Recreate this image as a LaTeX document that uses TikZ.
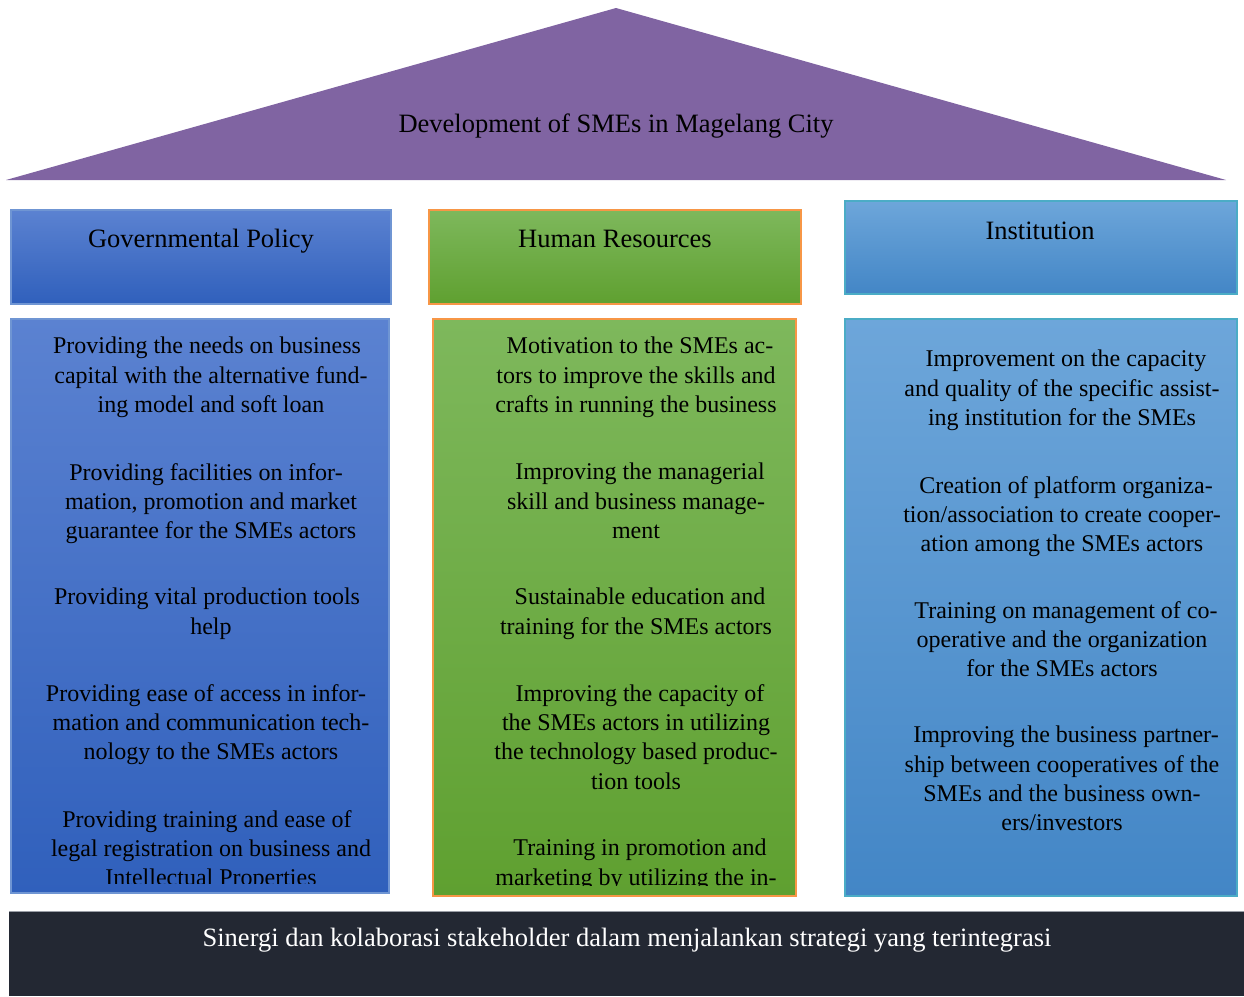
\documentclass[tikz,border=0pt]{standalone}
\usepackage{fontspec}
\setmainfont{Liberation Serif}
\definecolor{roof}{HTML}{8064A2}
\definecolor{govTop}{HTML}{5B82D1}
\definecolor{govBot}{HTML}{3060BC}
\definecolor{govLine}{HTML}{6F95D3}
\definecolor{hrTop}{HTML}{7EB85C}
\definecolor{hrBot}{HTML}{5FA030}
\definecolor{hrLine}{HTML}{F79646}
\definecolor{inTop}{HTML}{6DA6DA}
\definecolor{inBot}{HTML}{4386C6}
\definecolor{inLine}{HTML}{4BACC6}
\definecolor{bar}{HTML}{232833}
\definecolor{barLine}{HTML}{9A9EA6}
\tikzset{
  govbox/.style={top color=govTop, bottom color=govBot, draw=govLine, line width=1.5pt},
  hrbox/.style={top color=hrTop, bottom color=hrBot, draw=hrLine, line width=1.5pt},
  inbox/.style={top color=inTop, bottom color=inBot, draw=inLine, line width=1.5pt},
  head/.style={inner sep=0pt, anchor=base, font=\fontsize{26.5}{32}\selectfont},
  para/.style={inner sep=0pt, anchor=north, align=center, font=\fontsize{24}{29.3}\selectfont}
}
\begin{document}
\begin{tikzpicture}[x=1pt,y=-1pt]
\useasboundingbox (0,0) rectangle (1244,996);
% roof
\fill[roof] (6,180) coordinate (rl) -- (616,8) coordinate (apex) -- (1226,180) coordinate (rr) -- cycle;
\node[head] (title) at (616,132) {Development of SMEs in Magelang City};
% headers
\path[govbox] (11,210) rectangle (391,304);
\node[head] (hgov) at (201,247) {Governmental Policy};
\path[hrbox] (429,210) rectangle (801,304);
\node[head] (hhr) at (615,247) {Human Resources};
\path[inbox] (845,201) rectangle (1237,294);
\node[head] (hin) at (1040,239) {Institution};
% content boxes
\path[govbox] (11,319) rectangle (389,893);
\path[hrbox] (433,319) rectangle (796,896);
\path[inbox] (845,319) rectangle (1237,896);
% gov texts
\begin{scope}
\clip (12,320) rectangle (388,883);
\node[para] (g1) at (211,337) {Providing the needs on business\hspace*{8pt}\\capital with the alternative fund-\\ing model and soft loan};
\node[para] (g2) at (211,463) {Providing facilities on infor-\hspace*{10pt}\\mation, promotion and market\\guarantee for the SMEs actors};
\node[para] (g3) at (211,588) {Providing vital production tools\hspace*{8pt}\\help};
\node[para] (g4) at (211,684) {Providing ease of access in infor-\hspace*{10pt}\\mation and communication tech-\\nology to the SMEs actors};
\node[para] (g5) at (211,810) {Providing training and ease of\hspace*{8pt}\\legal registration on business and\\Intellectual Properties};
\end{scope}
% hr texts
\begin{scope}
\clip (434,320) rectangle (795,885);
\node[para] (h1) at (636,337) {\hspace*{8pt}Motivation to the SMEs ac-\\tors to improve the skills and\\crafts in running the business};
\node[para] (h2) at (636,463) {\hspace*{8pt}Improving the managerial\\skill and business manage-\\ment};
\node[para] (h3) at (636,588) {\hspace*{8pt}Sustainable education and\\training for the SMEs actors};
\node[para] (h4) at (636,684) {\hspace*{8pt}Improving the capacity of\\the SMEs actors in utilizing\\the technology based produc-\\tion tools};
\node[para] (h5) at (636,839) {\hspace*{8pt}Training in promotion and\\marketing by utilizing the in-\\ternet};
\end{scope}
% institution texts
\node[para] (i1) at (1062,350) {\hspace*{8pt}Improvement on the capacity\\and quality of the specific assist-\\ing institution for the SMEs};
\node[para] (i2) at (1062,476) {\hspace*{8pt}Creation of platform organiza-\\tion/association to create cooper-\\ation among the SMEs actors};
\node[para] (i3) at (1062,601) {\hspace*{8pt}Training on management of co-\\operative and the organization\\for the SMEs actors};
\node[para] (i4) at (1062,726) {\hspace*{8pt}Improving the business partner-\\ship between cooperatives of the\\SMEs and the business own-\\ers/investors};
% foundation bar
\fill[bar] (9,911) rectangle (1244,996);
\draw[barLine, line width=1pt] (9,911.5) -- (1244,911.5);
\node[head, text=white] (base) at (627,946) {Sinergi dan kolaborasi stakeholder dalam menjalankan strategi yang terintegrasi};
\end{tikzpicture}
\end{document}
